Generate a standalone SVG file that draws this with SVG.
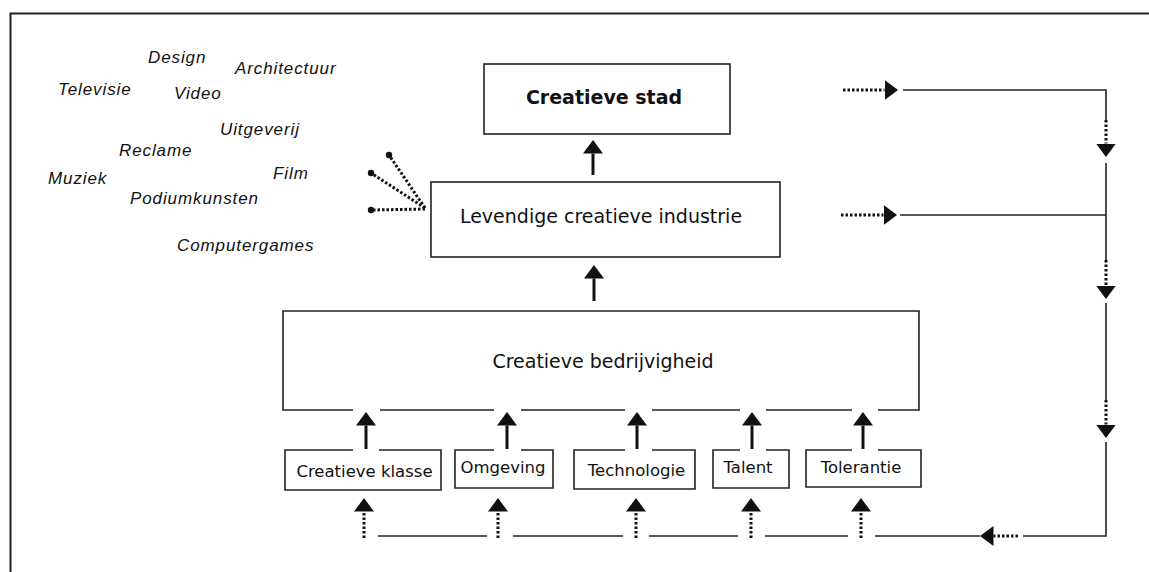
<svg xmlns="http://www.w3.org/2000/svg" width="1149" height="572" viewBox="0 0 1149 572">
<style>
.bg{fill:#fff}
.frame{fill:none;stroke:#222;stroke-width:2}
.box{fill:none;stroke:#222;stroke-width:1.6}
.t{font-family:"DejaVu Sans",Verdana,sans-serif;fill:#111;text-anchor:middle}
.tb{font-size:19px;font-weight:bold}
.tm{font-size:19px}
.ts{font-size:16.5px}
.w{font-family:"Liberation Sans",Arial,sans-serif;font-style:italic;font-size:17px;letter-spacing:0.9px;fill:#111}
.solid{fill:none;stroke:#111;stroke-width:3}
.thin{fill:none;stroke:#222;stroke-width:1.6}
.dot{fill:none;stroke:#111;stroke-width:3;stroke-dasharray:2.5 2}
.dotc{fill:#111}
</style>
<defs>
<marker id="ah" markerUnits="userSpaceOnUse" viewBox="0 0 14 20" markerWidth="14" markerHeight="20" refX="0" refY="10" orient="auto">
<path d="M0,0 L13.5,10 L0,20 Z" fill="#111"/>
</marker>
</defs>
<rect class="bg" x="0" y="0" width="1149" height="572"/>
<path class="frame" d="M10.5,572 V13.5 H1149"/>

<g id="sectors">
<text class="w" x="148" y="63">Design</text>
<text class="w" x="235" y="74">Architectuur</text>
<text class="w" x="58" y="95">Televisie</text>
<text class="w" x="174" y="99">Video</text>
<text class="w" x="220" y="135">Uitgeverij</text>
<text class="w" x="119" y="156">Reclame</text>
<text class="w" x="48" y="184">Muziek</text>
<text class="w" x="273" y="179">Film</text>
<text class="w" x="130" y="204">Podiumkunsten</text>
<text class="w" x="177" y="251">Computergames</text>
</g>

<g id="creatieve-stad">
<rect class="box" x="484" y="64" width="246" height="70"/>
<text class="t tb" x="604" y="104">Creatieve stad</text>
</g>

<g id="levendige-creatieve-industrie">
<rect class="box" x="431" y="182" width="349" height="75"/>
<text class="t tm" x="601" y="223">Levendige creatieve industrie</text>
</g>

<g id="creatieve-bedrijvigheid">
<path class="box" d="M353,410 H283 V311 H919 V410 H878 M852,410 H766 M740,410 H652 M625,410 H521 M494,410 H380"/>
<text class="t tm" x="603" y="368">Creatieve bedrijvigheid</text>
</g>

<g id="creatieve-klasse">
<path class="box" d="M379,450 H441 V490 H285 V450 H353"/>
<text class="t ts" x="364.5" y="477">Creatieve klasse</text>
</g>

<g id="omgeving">
<path class="box" d="M521,450 H553 V488 H455 V450 H494"/>
<text class="t ts" x="503" y="473">Omgeving</text>
</g>

<g id="technologie">
<path class="box" d="M652,450 H695 V489 H574 V450 H625"/>
<text class="t ts" x="636.5" y="476">Technologie</text>
</g>

<g id="talent">
<path class="box" d="M766,450 H789 V488 H713 V450 H740"/>
<text class="t ts" x="748" y="473">Talent</text>
</g>

<g id="tolerantie">
<path class="box" d="M878,450 H921 V487 H806 V450 H852"/>
<text class="t ts" x="861" y="473">Tolerantie</text>
</g>

<g id="connectors">
<!-- vertical solid arrows -->
<line class="solid" x1="593" y1="175" x2="593" y2="153.5" marker-end="url(#ah)"/>
<line class="solid" x1="594" y1="301" x2="594" y2="278.5" marker-end="url(#ah)"/>
<line class="solid" x1="366" y1="449" x2="366" y2="425.5" marker-end="url(#ah)"/>
<line class="solid" x1="507" y1="449" x2="507" y2="425.5" marker-end="url(#ah)"/>
<line class="solid" x1="637" y1="449" x2="637" y2="425.5" marker-end="url(#ah)"/>
<line class="solid" x1="752" y1="449" x2="752" y2="425.5" marker-end="url(#ah)"/>
<line class="solid" x1="863" y1="449" x2="863" y2="425.5" marker-end="url(#ah)"/>

<!-- dotted up arrows below factor boxes -->
<line class="dot" x1="364" y1="538" x2="364" y2="511.5" marker-end="url(#ah)"/>
<line class="dot" x1="498" y1="538" x2="498" y2="511.5" marker-end="url(#ah)"/>
<line class="dot" x1="636" y1="538" x2="636" y2="511.5" marker-end="url(#ah)"/>
<line class="dot" x1="751" y1="538" x2="751" y2="511.5" marker-end="url(#ah)"/>
<line class="dot" x1="861" y1="538" x2="861" y2="511.5" marker-end="url(#ah)"/>

<!-- bottom feedback line -->
<path class="thin" d="M378,536 H487 M513,536 H623 M649,536 H738 M765,536 H848 M875,536 H980"/>
<line class="dot" x1="1018" y1="536" x2="993.5" y2="536" marker-end="url(#ah)"/>
<path class="thin" d="M1023,536 H1106 V442"/>

<!-- right vertical feedback line -->
<path class="thin" d="M903,90 H1106 V120"/>
<line class="dot" x1="1106" y1="120" x2="1106" y2="143.5" marker-end="url(#ah)"/>
<path class="thin" d="M1106,163 V260 M900,215 H1106"/>
<line class="dot" x1="1106" y1="260" x2="1106" y2="285.5" marker-end="url(#ah)"/>
<path class="thin" d="M1106,303 V400"/>
<line class="dot" x1="1106" y1="400" x2="1106" y2="424.5" marker-end="url(#ah)"/>

<!-- horizontal dotted arrows on the right -->
<line class="dot" x1="843" y1="90" x2="884.5" y2="90" marker-end="url(#ah)"/>
<line class="dot" x1="841" y1="215" x2="883.5" y2="215" marker-end="url(#ah)"/>

<!-- fan from sector list -->
<line class="dot" x1="425" y1="208" x2="389" y2="155"/>
<line class="dot" x1="425" y1="208" x2="371" y2="173"/>
<line class="dot" x1="425" y1="209" x2="371" y2="210"/>
<circle class="dotc" cx="389" cy="155" r="3.2"/>
<circle class="dotc" cx="371" cy="173" r="3.2"/>
<circle class="dotc" cx="371" cy="210" r="3.2"/>
</g>
</svg>
